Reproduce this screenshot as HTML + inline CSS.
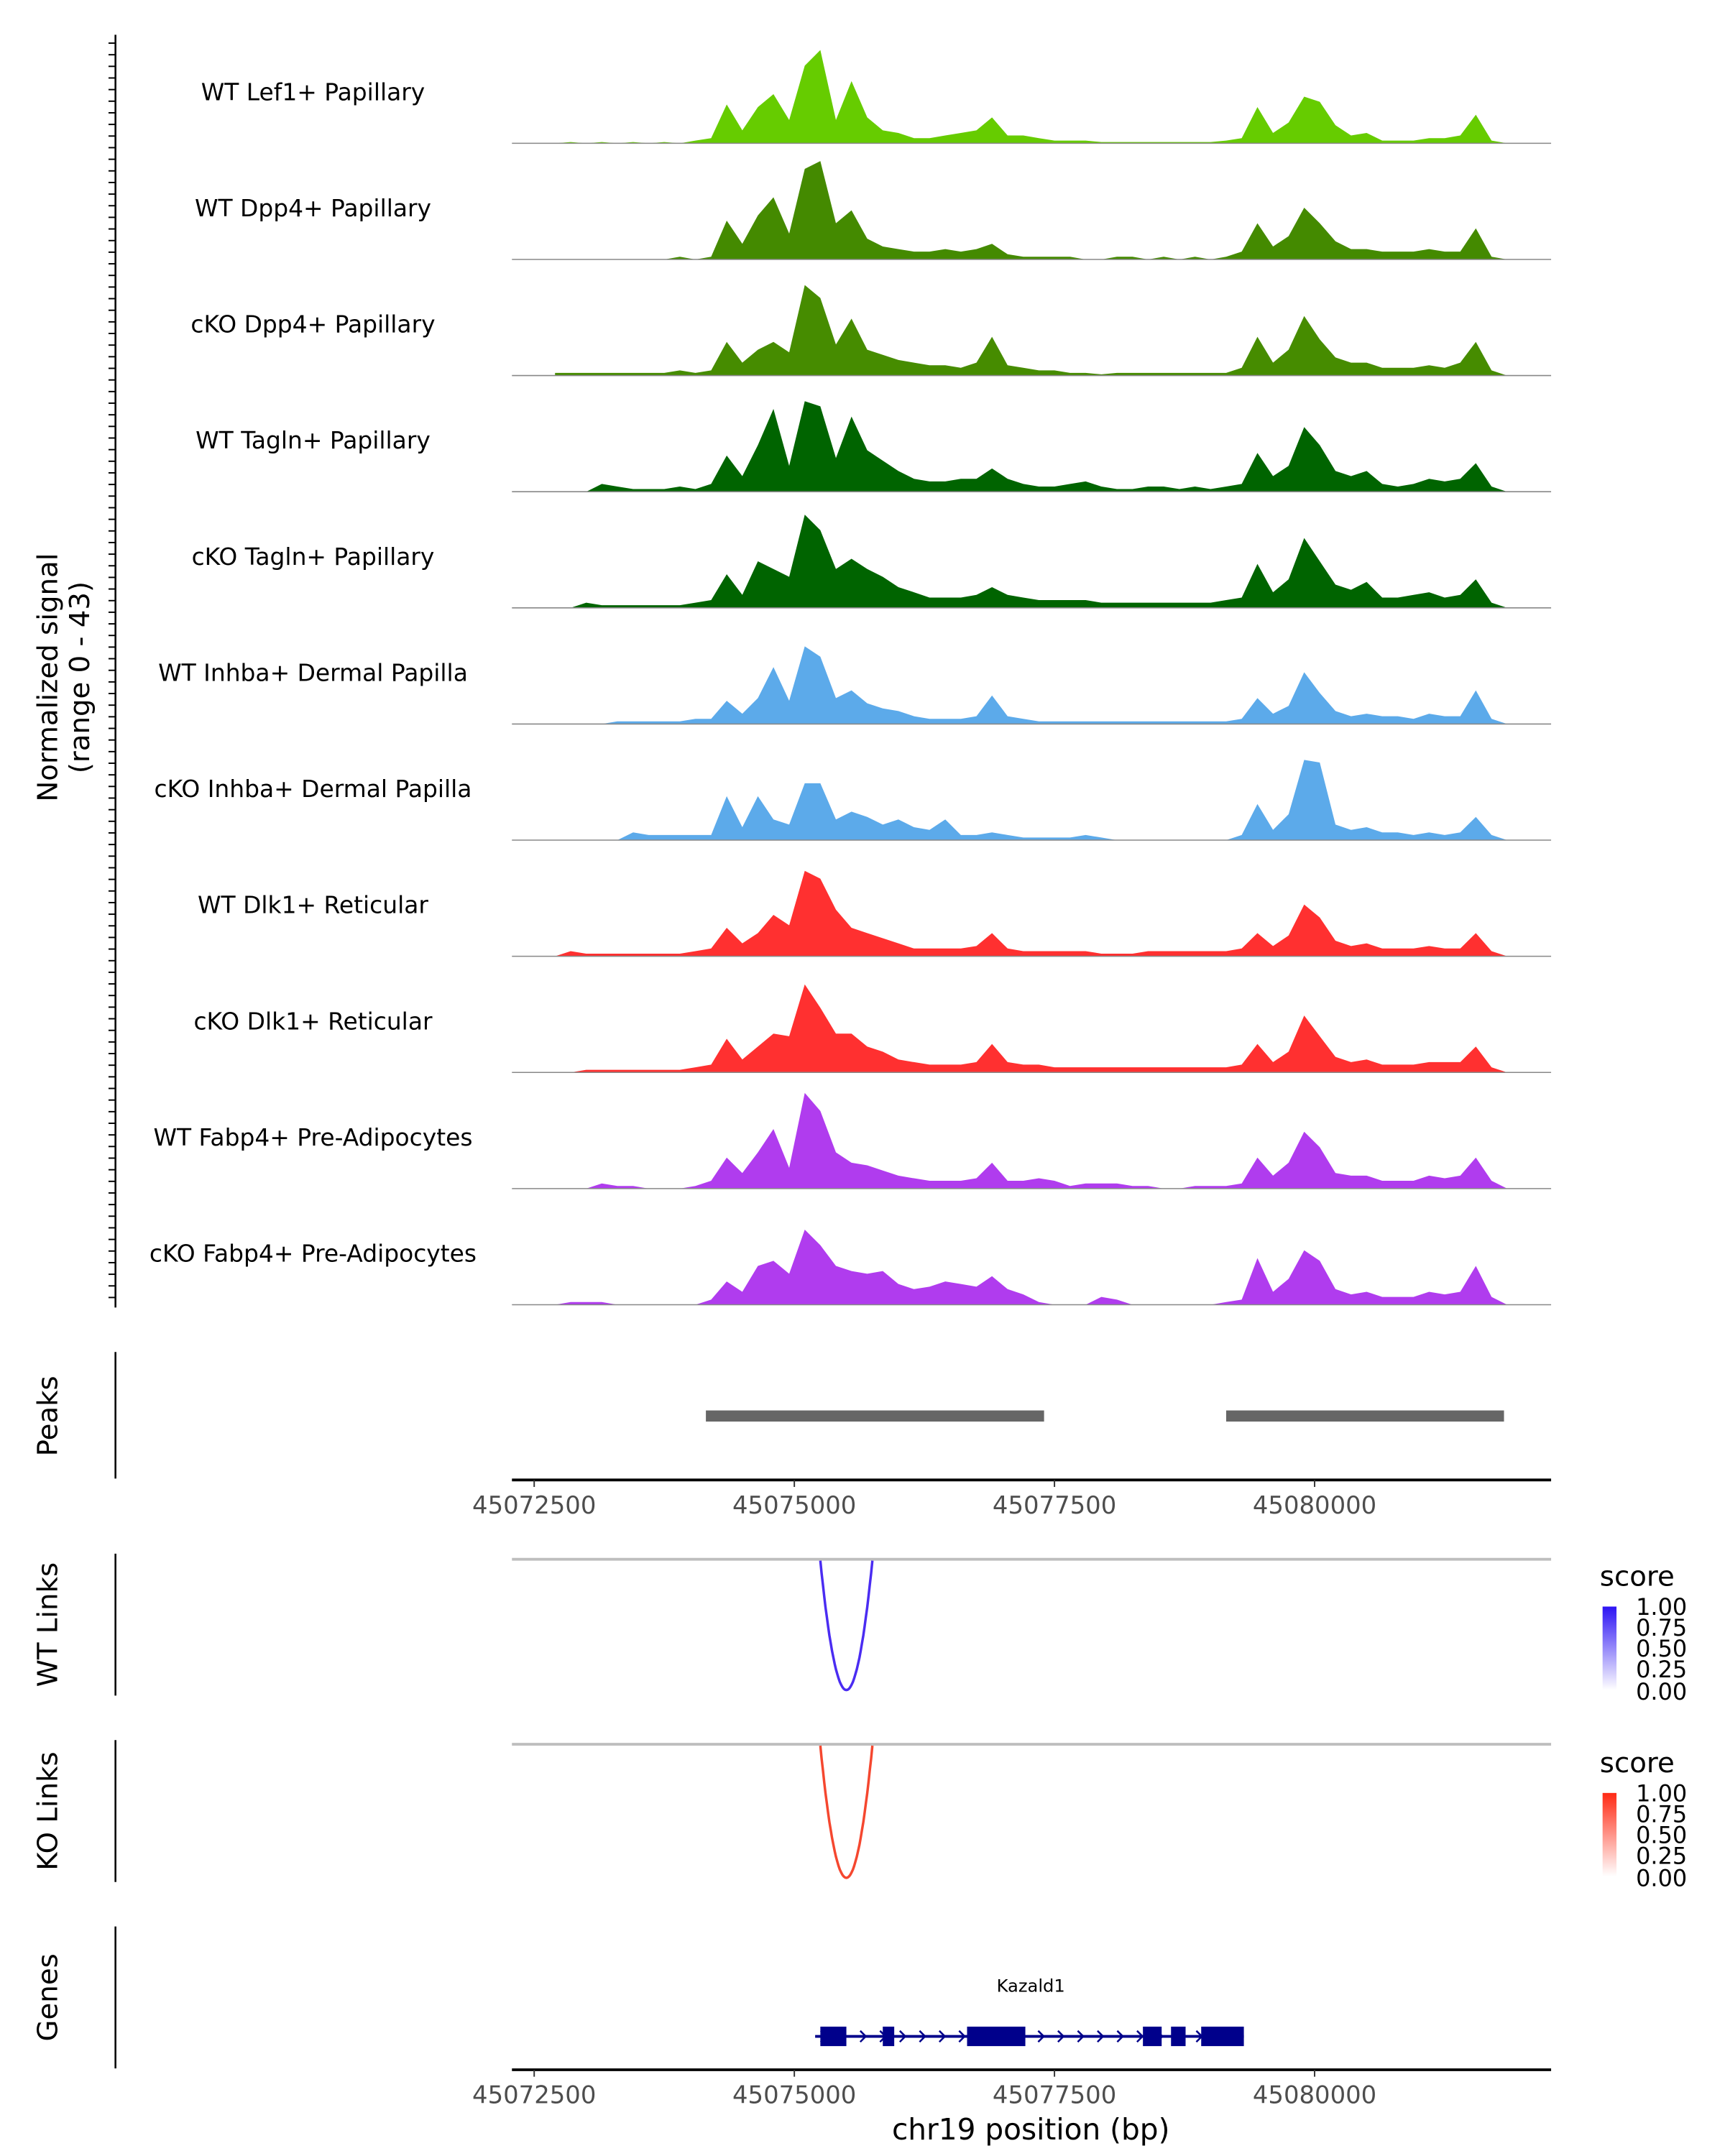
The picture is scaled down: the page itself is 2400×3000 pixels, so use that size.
<!DOCTYPE html>
<html><head><meta charset="utf-8"><style>
html,body{margin:0;padding:0;background:#fff}
svg{display:block;font-family:"DejaVu Sans","Liberation Sans",sans-serif}
</style></head><body>
<svg id="chart" width="2400" height="3000" viewBox="0 0 1240 1550" xmlns="http://www.w3.org/2000/svg">
<g id="tracks"></g>
<line x1="83" y1="25" x2="83" y2="940" stroke="#000" stroke-width="1.3"/>
<g id="yticks"></g>
<text transform="translate(41,487) rotate(-90)" text-anchor="middle" font-size="20" fill="#000">Normalized signal</text>
<text transform="translate(64,487) rotate(-90)" text-anchor="middle" font-size="20" fill="#000">(range 0 - 43)</text>

<line x1="83" y1="972" x2="83" y2="1063" stroke="#000" stroke-width="1.3"/>
<text transform="translate(41,1018) rotate(-90)" text-anchor="middle" font-size="20">Peaks</text>
<g id="peaks"></g>
<g id="xaxis1"></g>

<line x1="83" y1="1117" x2="83" y2="1219" stroke="#000" stroke-width="1.3"/>
<text transform="translate(41,1168) rotate(-90)" text-anchor="middle" font-size="20">WT Links</text>
<line x1="368" y1="1121" x2="1115" y2="1121" stroke="#bebebe" stroke-width="2"/>
<path id="wtarc" fill="none" stroke="#4a2cf2" stroke-width="1.8"/>

<line x1="83" y1="1251" x2="83" y2="1353" stroke="#000" stroke-width="1.3"/>
<text transform="translate(41,1302) rotate(-90)" text-anchor="middle" font-size="20">KO Links</text>
<line x1="368" y1="1254" x2="1115" y2="1254" stroke="#bebebe" stroke-width="2"/>
<path id="koarc" fill="none" stroke="#f5472f" stroke-width="1.8"/>

<defs>
<linearGradient id="gblue" x1="0" y1="1" x2="0" y2="0"><stop offset="0" stop-color="#ffffff"/><stop offset="1" stop-color="#2d14f4"/></linearGradient>
<linearGradient id="gred" x1="0" y1="1" x2="0" y2="0"><stop offset="0" stop-color="#ffffff"/><stop offset="1" stop-color="#ff2a14"/></linearGradient>
</defs>
<g>
<text x="1150" y="1140" font-size="20">score</text>
<rect x="1152" y="1155" width="10" height="60" fill="url(#gblue)"/>
<g font-size="16.5" fill="#000"><text x="1176" y="1161">1.00</text><text x="1176" y="1176">0.75</text><text x="1176" y="1191">0.50</text><text x="1176" y="1206">0.25</text><text x="1176" y="1222">0.00</text></g>
</g>
<g>
<text x="1150" y="1274" font-size="20">score</text>
<rect x="1152" y="1289" width="10" height="60" fill="url(#gred)"/>
<g font-size="16.5" fill="#000"><text x="1176" y="1295">1.00</text><text x="1176" y="1310">0.75</text><text x="1176" y="1325">0.50</text><text x="1176" y="1340">0.25</text><text x="1176" y="1356">0.00</text></g>
</g>

<line x1="83" y1="1385" x2="83" y2="1487" stroke="#000" stroke-width="1.3"/>
<text transform="translate(41,1436) rotate(-90)" text-anchor="middle" font-size="20">Genes</text>
<text x="741" y="1432" text-anchor="middle" font-size="12.5">Kazald1</text>
<g id="gene"></g>
<g id="xaxis2"></g>
<text x="741" y="1538" text-anchor="middle" font-size="21">chr19 position (bp)</text>
</svg>
<script>
const NS="http://www.w3.org/2000/svg";
const trackNames=["WT Lef1+ Papillary","WT Dpp4+ Papillary","cKO Dpp4+ Papillary","WT Tagln+ Papillary","cKO Tagln+ Papillary","WT Inhba+ Dermal Papilla","cKO Inhba+ Dermal Papilla","WT Dlk1+ Reticular","cKO Dlk1+ Reticular","WT Fabp4+ Pre-Adipocytes","cKO Fabp4+ Pre-Adipocytes"];
const trackColors=["#66cc00","#448a00","#468c00","#006400","#006400","#5caaea","#5caaea","#ff3030","#ff3030","#b03cee","#b03cee"];
const binStart=45072700, binSize=150;
const xTicks=[45072500,45075000,45077500,45080000];
const yMax=43;
const sigLef1WT=[0,0.5,0,0.5,0,0.5,0,0.5,0,1,2,15,5,14,19,9,30,36,9,24,10,5,4,2,2,3,4,5,10,3,3,2,1,1,1,0.5,0.5,0.5,0.5,0.5,0.5,0.5,0.5,1,2,14,4,8,18,16,7,3,4,1,1,1,2,2,3,11,1,0];
const sigDpp4WT=[0,0,0,0,0,0,0,0,1,0,1,15,6,17,24,10,35,38,14,19,8,5,4,3,3,4,3,4,6,2,1,1,1,1,0,0,1,1,0,1,0,1,0,1,3,14,5,9,20,14,7,4,4,3,3,3,4,3,3,12,1,0];
const sigDpp4KO=[1,1,1,1,1,1,1,1,2,1,2,13,5,10,13,9,35,30,12,22,10,8,6,5,4,4,3,5,15,4,3,2,2,1,1,0.5,1,1,1,1,1,1,1,1,3,15,5,10,23,14,7,5,5,3,3,3,4,3,5,13,2,0];
const sigTaglnWT=[0,0,0,3,2,1,1,1,2,1,3,14,6,18,32,10,35,33,13,29,16,12,8,5,4,4,5,5,9,5,3,2,2,3,4,2,1,1,2,2,1,2,1,2,3,15,6,10,25,18,8,6,8,3,2,3,5,4,5,11,2,0];
const sigTaglnKO=[0,0,2,1,1,1,1,1,1,2,3,13,5,18,15,12,36,30,15,19,15,12,8,6,4,4,4,5,8,5,4,3,3,3,3,2,2,2,2,2,2,2,2,3,4,17,6,11,27,18,9,7,10,4,4,5,6,4,5,11,2,0];
const sigInhbaWT=[0,0,0,0,1,1,1,1,1,2,2,9,4,10,22,9,30,26,10,13,8,6,5,3,2,2,2,3,11,3,2,1,1,1,1,1,1,1,1,1,1,1,1,1,2,10,4,7,20,12,5,3,4,3,3,2,4,3,3,13,2,0];
const sigInhbaKO=[0,0,0,0,0,3,2,2,2,2,2,17,5,17,8,6,22,22,8,11,9,6,8,5,4,8,2,2,3,2,1,1,1,1,2,1,0,0,0,0,0,0,0,0,2,14,4,10,31,30,6,4,5,3,3,2,3,2,3,9,2,0];
const sigDlk1WT=[0,2,1,1,1,1,1,1,1,2,3,11,5,9,16,12,33,30,18,11,9,7,5,3,3,3,3,4,9,3,2,2,2,2,2,1,1,1,2,2,2,2,2,2,3,9,4,8,20,15,6,4,5,3,3,3,4,3,3,9,2,0];
const sigDlk1KO=[0,0,1,1,1,1,1,1,1,2,3,13,5,10,15,14,34,25,15,15,10,8,5,4,3,3,3,4,11,4,3,3,2,2,2,2,2,2,2,2,2,2,2,2,3,11,4,8,22,14,6,4,5,3,3,3,4,4,4,10,2,0];
const sigFabp4WT=[0,0,0,2,1,1,0,0,0,1,3,12,6,14,23,8,37,30,14,10,9,7,5,4,3,3,3,4,10,3,3,4,3,1,2,2,2,1,1,0,0,1,1,1,2,12,5,10,22,16,6,5,5,3,3,3,5,4,5,12,3,0];
const sigFabp4KO=[0,1,1,1,0,0,0,0,0,0,2,9,5,15,17,12,29,23,15,13,12,13,8,6,7,9,8,7,11,6,4,1,0,0,0,3,2,0,0,0,0,0,0,1,2,18,5,10,21,17,6,4,5,3,3,3,5,4,5,15,3,0];
const signals=[sigLef1WT,sigDpp4WT,sigDpp4KO,sigTaglnWT,sigTaglnKO,sigInhbaWT,sigInhbaKO,sigDlk1WT,sigDlk1KO,sigFabp4WT,sigFabp4KO];
const peakStarts=[45074150,45079150];
const peakEnds=[45077400,45081820];
const linkStart=[45075250], linkEnd=[45075750];
const exonStarts=[45075250,45075850,45076660,45078350,45078620,45078910];
const exonEnds=[45075500,45075960,45077220,45078530,45078760,45079320];
const geneStart=45075200, geneEnd=45079320;

const X0=384, PX=187/2500;
function xs(p){return X0+(p-45072500)*PX;}
const firstBase=103, trackStep=83.5, trackH=80;
function ys(v,base){return base-v/yMax*trackH;}

const tg=document.getElementById('tracks');
signals.forEach((arr,t)=>{
  const base=firstBase+t*trackStep;
  const g=document.createElementNS(NS,'g');
  
  
  let d='M'+xs(binStart)+','+base;
  arr.forEach((v,i)=>{d+=' L'+xs(binStart+i*binSize).toFixed(1)+','+ys(v,base).toFixed(1);});
  d+=' L'+xs(binStart+(arr.length-1)*binSize)+','+base+' Z';
  const p=document.createElementNS(NS,'path');
  p.setAttribute('d',d);p.setAttribute('fill',trackColors[t]);
  
  
  g.appendChild(p);
  const l=document.createElementNS(NS,'line');
  l.setAttribute('x1',368);l.setAttribute('x2',1115);l.setAttribute('y1',base);l.setAttribute('y2',base);
  l.setAttribute('stroke','#888');l.setAttribute('stroke-width','0.8');
  
  
  g.appendChild(l);
  const tx=document.createElementNS(NS,'text');
  tx.setAttribute('x',225);tx.setAttribute('y',base-31);tx.setAttribute('text-anchor','middle');tx.setAttribute('font-size','17');
  
  
  tx.textContent=trackNames[t];
  g.appendChild(tx);
  tg.appendChild(g);
});
const yt=document.getElementById('yticks');
for(let y=31;y<=940;y+=8.35){
  const l=document.createElementNS(NS,'line');
  l.setAttribute('x1',78);l.setAttribute('x2',83);l.setAttribute('y1',y);l.setAttribute('y2',y);l.setAttribute('stroke','#000');l.setAttribute('stroke-width','1');
  
  
  yt.appendChild(l);
}
const pg=document.getElementById('peaks');
peakStarts.forEach((s,i)=>{
  const r=document.createElementNS(NS,'rect');
  r.setAttribute('x',xs(s));r.setAttribute('width',xs(peakEnds[i])-xs(s));r.setAttribute('y',1014);r.setAttribute('height',8);r.setAttribute('fill','#666');
  
  
  pg.appendChild(r);
});
function axis(id,y){
  const g=document.getElementById(id);
  const l=document.createElementNS(NS,'line');
  l.setAttribute('x1',368);l.setAttribute('x2',1115);l.setAttribute('y1',y);l.setAttribute('y2',y);l.setAttribute('stroke','#000');l.setAttribute('stroke-width','2');
  
  
  g.appendChild(l);
  xTicks.forEach(v=>{
    const t=document.createElementNS(NS,'line');
    t.setAttribute('x1',xs(v));t.setAttribute('x2',xs(v));t.setAttribute('y1',y);t.setAttribute('y2',y+5);t.setAttribute('stroke','#333');
    
    
    g.appendChild(t);
    const tx=document.createElementNS(NS,'text');
    tx.setAttribute('x',xs(v));tx.setAttribute('y',y+24);tx.setAttribute('text-anchor','middle');tx.setAttribute('font-size','17.5');tx.setAttribute('fill','#4d4d4d');
    
    
    tx.textContent=v;
    g.appendChild(tx);
  });
}
axis('xaxis1',1064);axis('xaxis2',1488);
function arc(id,top,bottom){
  const a=xs(linkStart[0]),b=xs(linkEnd[0]);
  let d='';
  for(let i=0;i<=40;i++){const t=i/40;const x=a+(b-a)*t;const yy=top+(bottom-top)*(1-Math.pow(2*t-1,2));d+=(i?'L':'M')+x.toFixed(1)+','+yy.toFixed(1);}
  document.getElementById(id).setAttribute('d',d);
}
arc('wtarc',1122,1215);arc('koarc',1255,1350);
const gg=document.getElementById('gene');
const gl=document.createElementNS(NS,'line');
gl.setAttribute('x1',xs(geneStart));gl.setAttribute('x2',xs(geneEnd));gl.setAttribute('y1',1464);gl.setAttribute('y2',1464);gl.setAttribute('stroke','#00008b');gl.setAttribute('stroke-width','2');


gg.appendChild(gl);
for(let p=geneStart+80;p<geneEnd;p+=190){
  const x=xs(p);
  const ch=document.createElementNS(NS,'path');
  ch.setAttribute('d','M'+(x-2)+',1460 L'+(x+2)+',1464 L'+(x-2)+',1468');ch.setAttribute('fill','none');ch.setAttribute('stroke','#00008b');ch.setAttribute('stroke-width','1.3');
  
  
  gg.appendChild(ch);
}
exonStarts.forEach((s,i)=>{
  const r=document.createElementNS(NS,'rect');
  r.setAttribute('x',xs(s));r.setAttribute('width',xs(exonEnds[i])-xs(s));r.setAttribute('y',1457);r.setAttribute('height',14);r.setAttribute('fill','#00008b');
  
  
  gg.appendChild(r);
});
</script>
</body></html>
